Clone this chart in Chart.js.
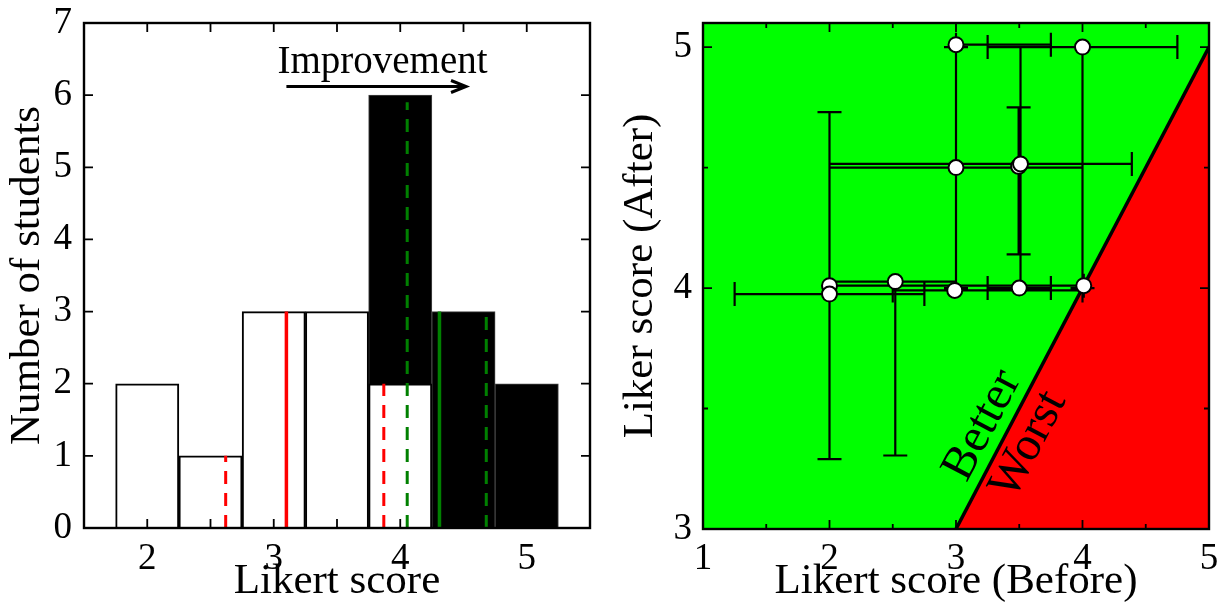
<!DOCTYPE html>
<html>
<head>
<meta charset="utf-8">
<title>Likert score before / after</title>
<script src="https://cdn.jsdelivr.net/npm/chart.js@4.4.1/dist/chart.umd.min.js"></script>
<style>
  html, body { margin: 0; padding: 0; background: #fff; }
  #wrap { position: relative; width: 1223px; height: 615px; overflow: hidden; }
  #hist    { position: absolute; left: 0;     top: 0; }
  #scatter { position: absolute; left: 612px; top: 0; }
</style>
</head>
<body>
<div id="wrap">
  <canvas id="hist" width="612" height="615"></canvas>
  <canvas id="scatter" width="611" height="615"></canvas>
</div>
<script>
/* ── Data: histogram (left) ─────────────────────────────────── */
var beforeScores = [2, 2.5, 3, 3.5, 4];
var beforeCounts = [2, 1, 3, 3, 2];
var afterScores  = [4, 4.5, 5];
var afterCounts  = [6, 3, 2];

// mean / median markers drawn as vertical lines
var markerScores = [2.62, 3.10, 3.87, 4.055, 4.31, 4.68];
var markerTops   = [1, 3, 2, 5.9, 3, 3];

var histXTicks = [2, 3, 4, 5];
var histXMinor = [2.5, 3.5, 4.5];
var histYTicks = [0, 1, 2, 3, 4, 5, 6, 7];

/* ── Data: before vs after (right) ──────────────────────────── */
var beforeMean = [3.0, 4.0, 3.0, 3.495, 3.51, 2.0, 2.0, 2.52, 2.99, 3.5, 4.01];
var afterMean  = [5.01, 5.0, 4.5, 4.505, 4.515, 4.01, 3.975, 4.027, 3.99, 4.0, 4.01];
var beforeLow  = [3.0, 3.25, 2.0, null, 2.0, 2.0, 1.25, 2.0, 2.5, 3.25, 3.0];
var beforeHigh = [3.75, 4.75, 4.0, null, 4.39, 3.0, 2.75, 3.0, 4.0, 3.75, 4.01];
var afterLow   = [null, 4.0, 4.0, 4.14, 4.0, 3.29, null, 3.305, null, null, null];
var afterHigh  = [null, 5.0, 5.0, 4.75, 5.0, 4.73, null, 4.027, null, null, null];

// boundary y = x between "Better" and "Worst"
var parityX = [1, 3, 5];
var parityY = [3, 3, 5];

var scatterXTicks = [1, 2, 3, 4, 5];
var scatterXMinor = [1.5, 2.5, 3.5, 4.5];
var scatterYTicks = [3, 4, 5];
var scatterYMinor = [3.5, 4.5];

/* ── Styles ─────────────────────────────────────────────────── */
var SERIF = "'Liberation Serif', 'Times New Roman', serif";
var markerStyle = [
  { color: '#ff0000', dash: [13, 9], width: 3 },
  { color: '#ff0000', dash: [],      width: 3.5 },
  { color: '#ff0000', dash: [13, 9], width: 3 },
  { color: '#008000', dash: [13, 9], width: 3 },
  { color: '#008000', dash: [],      width: 3.5 },
  { color: '#008000', dash: [13, 9], width: 3 }
];

/* ── Helpers ────────────────────────────────────────────────── */
function pairs(xs, ys) {
  return xs.map(function (x, i) { return { x: x, y: ys[i] }; });
}

function setTicks(values) {
  return function (scale) {
    scale.ticks = values.map(function (v) { return { value: v }; });
  };
}

// fixed axis box, no extra room for overhanging end labels
function fitX(h) {
  return function (s) { s.height = h; s.paddingLeft = 0; s.paddingRight = 0; };
}
function fitY(w) {
  return function (s) { s.width = w; s.paddingTop = 0; s.paddingBottom = 0; };
}

function tickFont() { return { family: SERIF, size: 37, lineHeight: 1 }; }
function titleFont() { return { family: SERIF, size: 43, lineHeight: 1 }; }

// frame round the plot area plus inward ticks on all four sides
var frameTicks = {
  id: 'frameTicks',
  afterDraw: function (chart, args, o) {
    var ctx = chart.ctx, a = chart.chartArea;
    var xs = chart.scales.x, ys = chart.scales.y;
    ctx.save();
    ctx.strokeStyle = '#000';
    ctx.lineWidth = 1.8;
    ctx.beginPath();
    function xTick(v, len) {
      var px = xs.getPixelForValue(v);
      ctx.moveTo(px, a.bottom); ctx.lineTo(px, a.bottom - len);
      ctx.moveTo(px, a.top);    ctx.lineTo(px, a.top + len);
    }
    function yTick(v, len) {
      var py = ys.getPixelForValue(v);
      ctx.moveTo(a.left, py);  ctx.lineTo(a.left + len, py);
      ctx.moveTo(a.right, py); ctx.lineTo(a.right - len, py);
    }
    o.xMajor.forEach(function (v) { xTick(v, o.major); });
    o.xMinor.forEach(function (v) { xTick(v, o.minor); });
    o.yMajor.forEach(function (v) { yTick(v, o.major); });
    o.yMinor.forEach(function (v) { yTick(v, o.minor); });
    ctx.stroke();
    ctx.lineWidth = 2.4;
    ctx.strokeRect(a.left, a.top, a.right - a.left, a.bottom - a.top);
    ctx.restore();
  }
};

/* ── Left: histogram ────────────────────────────────────────── */
var improvement = { x1: 3.10, x2: 4.52, y: 6.12, textX: 3.86, textY: 6.45 };

var improvementArrow = {
  id: 'improvementArrow',
  afterDatasetsDraw: function (chart) {
    var ctx = chart.ctx, xs = chart.scales.x, ys = chart.scales.y;
    var x1 = xs.getPixelForValue(improvement.x1);
    var x2 = xs.getPixelForValue(improvement.x2);
    var y  = ys.getPixelForValue(improvement.y);
    ctx.save();
    ctx.strokeStyle = '#000';
    ctx.lineWidth = 3;
    ctx.beginPath();
    ctx.moveTo(x1, y); ctx.lineTo(x2, y);
    ctx.moveTo(x2 - 15, y - 6); ctx.lineTo(x2, y); ctx.lineTo(x2 - 15, y + 6);
    ctx.stroke();
    ctx.fillStyle = '#000';
    ctx.font = '39px ' + SERIF;
    ctx.textAlign = 'center';
    ctx.textBaseline = 'middle';
    ctx.fillText('Improvement', xs.getPixelForValue(improvement.textX), ys.getPixelForValue(improvement.textY));
    ctx.restore();
  }
};

var markerSets = markerScores.map(function (s, i) {
  var st = markerStyle[i];
  return {
    type: 'line',
    data: pairs([s, s], [0, markerTops[i]]),
    borderColor: st.color,
    borderWidth: st.width,
    borderDash: st.dash,
    borderCapStyle: 'butt',
    pointRadius: 0,
    fill: false
  };
});

new Chart(document.getElementById('hist'), {
  type: 'bar',
  data: {
    datasets: markerSets.concat([
      {
        label: 'Before',
        data: pairs(beforeScores, beforeCounts),
        backgroundColor: '#ffffff',
        borderColor: '#000000',
        borderWidth: 2,
        borderSkipped: 'bottom',
        barPercentage: 1,
        categoryPercentage: 1,
        grouped: false
      },
      {
        label: 'After',
        data: pairs(afterScores, afterCounts),
        backgroundColor: '#000000',
        borderColor: '#444444',
        borderWidth: 1,
        barPercentage: 1,
        categoryPercentage: 1,
        grouped: false
      }
    ])
  },
  options: {
    responsive: false,
    animation: false,
    layout: { padding: { top: 23, right: 22, bottom: 0, left: 0 } },
    plugins: {
      legend: { display: false },
      tooltip: { enabled: false },
      frameTicks: { xMajor: histXTicks, xMinor: histXMinor, yMajor: histYTicks, yMinor: [], major: 9, minor: 9 }
    },
    scales: {
      x: {
        type: 'linear', min: 1.5, max: 5.5, offset: false,
        grid: { display: false, drawTicks: false },
        border: { display: false },
        afterBuildTicks: setTicks(histXTicks),
        afterFit: fitX(87),
        ticks: { color: '#000', font: tickFont(), padding: 13, maxRotation: 0 },
        title: { display: true, text: 'Likert score', color: '#000', font: titleFont(), padding: { top: 0, bottom: 12 } }
      },
      y: {
        min: 0, max: 7,
        grid: { display: false, drawTicks: false },
        border: { display: false },
        afterBuildTicks: setTicks(histYTicks),
        afterFit: fitY(84),
        ticks: { color: '#000', font: tickFont(), padding: 12 },
        title: { display: true, text: 'Number of students', color: '#000', font: titleFont(), padding: { top: 6, bottom: 0 } }
      }
    }
  },
  plugins: [frameTicks, improvementArrow]
});

/* ── Right: after vs before ─────────────────────────────────── */
var betterLabel = { x: 3.21, y: 3.43 };
var worstLabel  = { x: 3.575, y: 3.35 };

var errorBars = {
  id: 'errorBars',
  beforeDatasetDraw: function (chart, args, o) {
    if (args.index !== 0) return;
    var ctx = chart.ctx, xs = chart.scales.x, ys = chart.scales.y;
    var c = o.cap;
    ctx.save();
    ctx.strokeStyle = '#000';
    ctx.lineWidth = o.width;
    ctx.beginPath();
    beforeMean.forEach(function (bx, i) {
      var px = xs.getPixelForValue(bx);
      var py = ys.getPixelForValue(afterMean[i]);
      if (beforeLow[i] !== null) {
        var x1 = xs.getPixelForValue(beforeLow[i]);
        var x2 = xs.getPixelForValue(beforeHigh[i]);
        ctx.moveTo(x1, py); ctx.lineTo(x2, py);
        ctx.moveTo(x1, py - c); ctx.lineTo(x1, py + c);
        ctx.moveTo(x2, py - c); ctx.lineTo(x2, py + c);
      }
      if (afterLow[i] !== null) {
        var y1 = ys.getPixelForValue(afterLow[i]);
        var y2 = ys.getPixelForValue(afterHigh[i]);
        ctx.moveTo(px, y1); ctx.lineTo(px, y2);
        ctx.moveTo(px - c, y1); ctx.lineTo(px + c, y1);
        ctx.moveTo(px - c, y2); ctx.lineTo(px + c, y2);
      }
    });
    ctx.stroke();
    ctx.restore();
  }
};

var regionLabels = {
  id: 'regionLabels',
  afterDatasetsDraw: function (chart) {
    var ctx = chart.ctx, xs = chart.scales.x, ys = chart.scales.y;
    var dx = xs.getPixelForValue(parityX[2]) - xs.getPixelForValue(parityX[1]);
    var dy = ys.getPixelForValue(parityY[2]) - ys.getPixelForValue(parityY[1]);
    var angle = Math.atan2(dy, dx);
    ctx.save();
    ctx.fillStyle = '#000';
    ctx.font = '48px ' + SERIF;
    ctx.textAlign = 'center';
    ctx.textBaseline = 'middle';
    [[betterLabel, 'Better'], [worstLabel, 'Worst']].forEach(function (l) {
      ctx.save();
      ctx.translate(xs.getPixelForValue(l[0].x), ys.getPixelForValue(l[0].y));
      ctx.rotate(angle);
      ctx.fillText(l[1], 0, 0);
      ctx.restore();
    });
    ctx.restore();
  }
};

new Chart(document.getElementById('scatter'), {
  type: 'scatter',
  data: {
    datasets: [
      {
        label: 'Students',
        data: pairs(beforeMean, afterMean),
        backgroundColor: '#ffffff',
        borderColor: '#000000',
        borderWidth: 2,
        pointRadius: 7.5
      },
      {
        type: 'line',
        data: pairs(parityX.slice(1), parityY.slice(1)),
        borderColor: '#000000',
        borderWidth: 3.5,
        pointRadius: 0,
        showLine: true,
        fill: false
      },
      {
        type: 'line',
        data: pairs(parityX, parityY),
        borderWidth: 0,
        pointRadius: 0,
        showLine: true,
        backgroundColor: '#ff0000',
        fill: 'start'
      },
      {
        type: 'line',
        data: pairs(parityX, parityY),
        borderWidth: 0,
        pointRadius: 0,
        showLine: true,
        backgroundColor: '#00ff00',
        fill: 'end'
      }
    ]
  },
  options: {
    responsive: false,
    animation: false,
    layout: { padding: { top: 23, right: 14, bottom: 0, left: 0 } },
    plugins: {
      legend: { display: false },
      tooltip: { enabled: false },
      errorBars: { cap: 12, width: 2.2 },
      frameTicks: { xMajor: scatterXTicks, xMinor: scatterXMinor, yMajor: scatterYTicks, yMinor: scatterYMinor, major: 9, minor: 5 }
    },
    scales: {
      x: {
        type: 'linear', min: 1, max: 5,
        grid: { display: false, drawTicks: false },
        border: { display: false },
        afterBuildTicks: setTicks(scatterXTicks),
        afterFit: fitX(86),
        ticks: { color: '#000', font: tickFont(), padding: 12, maxRotation: 0 },
        title: { display: true, text: 'Likert score (Before)', color: '#000', font: titleFont(), padding: { top: 0, bottom: 12 } }
      },
      y: {
        min: 3, max: 5.1,
        grid: { display: false, drawTicks: false },
        border: { display: false },
        afterBuildTicks: setTicks(scatterYTicks),
        afterFit: fitY(91),
        ticks: { color: '#000', font: tickFont(), padding: 11 },
        title: { display: true, text: 'Liker score (After)', color: '#000', font: titleFont(), padding: { top: 7, bottom: 0 } }
      }
    }
  },
  plugins: [frameTicks, errorBars, regionLabels]
});
</script>
</body>
</html>
